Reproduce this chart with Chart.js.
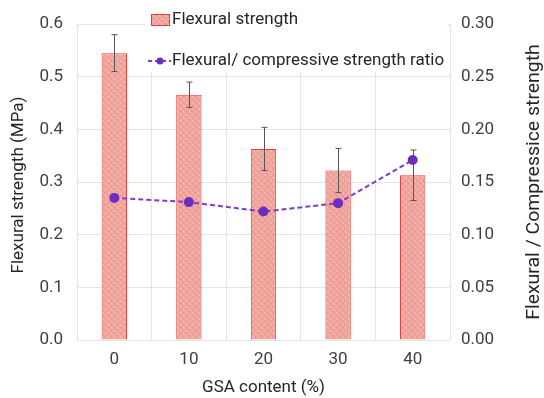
<!DOCTYPE html>
<html><head><meta charset="utf-8">
<script src="https://cdn.jsdelivr.net/npm/chart.js@4/dist/chart.umd.min.js"></script>
<style>html,body{margin:0;padding:0;background:#fff}</style>
</head><body>
<canvas id="c" width="544" height="398"></canvas>
<script>
const categories = ['0', '10', '20', '30', '40'];
const flexuralStrength = [0.545, 0.466, 0.363, 0.322, 0.313];
const flexuralError = [0.035, 0.024, 0.041, 0.042, 0.048];
const strengthRatio = [0.135, 0.131, 0.122, 0.130, 0.171];
const seriesLabels = ['Flexural strength', 'Flexural/ compressive strength ratio'];
const axisTitles = { x: 'GSA content (%)', y: 'Flexural strength (MPa)', y1: 'Flexural / Compressice strength' };

const FONT = 'Roboto, "Noto Sans", sans-serif';

function makePattern() {
  const p = document.createElement('canvas');
  p.width = 6; p.height = 6;
  const g = p.getContext('2d');
  g.fillStyle = '#f0a39b'; g.fillRect(0, 0, 6, 6);
  g.fillStyle = '#f7c3bd';
  g.fillRect(0, 0, 1, 1); g.fillRect(3, 3, 1, 1);
  g.fillRect(1, 1, 1, 1); g.fillRect(4, 4, 1, 1);
  g.fillStyle = '#e8908a';
  g.fillRect(3, 0, 1, 1); g.fillRect(0, 3, 1, 1);
  return g.createPattern(p, 'repeat');
}
const barPattern = makePattern();

const errorBarPlugin = {
  id: 'errorBars',
  afterDatasetsDraw(chart) {
    const ctx = chart.ctx;
    const meta = chart.getDatasetMeta(0);
    const ys = chart.scales.y;
    ctx.save();
    ctx.strokeStyle = '#555';
    ctx.lineWidth = 1;
    meta.data.forEach((bar, i) => {
      const v = flexuralStrength[i], e = flexuralError[i];
      const yt = ys.getPixelForValue(v + e), yb = ys.getPixelForValue(v - e);
      const x = Math.round(bar.x) + 0.5;
      ctx.beginPath();
      ctx.moveTo(x, yt); ctx.lineTo(x, yb);
      ctx.moveTo(x - 3, yt); ctx.lineTo(x + 3, yt);
      ctx.moveTo(x - 3, yb); ctx.lineTo(x + 3, yb);
      ctx.stroke();
    });
    ctx.restore();
  }
};

const legendPlugin = {
  id: 'customLegend',
  afterDatasetsDraw(chart) {
    const ctx = chart.ctx;
    const ds = chart.data.datasets;
    ctx.save();
    ctx.fillStyle = '#fff';
    ctx.fillRect(145, 6, 303, 66);
    ctx.fillStyle = barPattern;
    ctx.fillRect(151, 14, 19, 12);
    ctx.strokeStyle = '#e04040'; ctx.lineWidth = 1;
    ctx.strokeRect(151.5, 14.5, 18, 11);
    ctx.font = '17px ' + FONT;
    ctx.fillStyle = '#262626';
    ctx.textBaseline = 'middle';
    ctx.fillText(ds[0].label, 172, 20);
    ctx.strokeStyle = '#7a3fc4'; ctx.lineWidth = 2; ctx.setLineDash([4, 3]);
    ctx.beginPath(); ctx.moveTo(148, 61); ctx.lineTo(171, 61); ctx.stroke();
    ctx.setLineDash([]);
    ctx.fillStyle = '#6a2fc0';
    ctx.beginPath(); ctx.arc(160, 61, 3.5, 0, Math.PI * 2); ctx.fill();
    ctx.fillStyle = '#262626';
    ctx.fillText(ds[1].label, 172, 61);
    ctx.restore();
  }
};

function drawVerticalTitle(ctx, text, cx, cy, size, stretch) {
  ctx.save();
  ctx.translate(cx, cy);
  ctx.rotate(-Math.PI / 2);
  ctx.scale(stretch, 1);
  ctx.font = size + 'px ' + FONT;
  ctx.fillStyle = '#262626';
  ctx.textAlign = 'center';
  ctx.textBaseline = 'middle';
  ctx.fillText(text, 0, 0);
  ctx.restore();
}

const verticalTitlesPlugin = {
  id: 'verticalTitles',
  afterDraw(chart) {
    drawVerticalTitle(chart.ctx, axisTitles.y, 19, 185, 17, 1);
    drawVerticalTitle(chart.ctx, axisTitles.y1, 534, 182, 18, 1.08);
  }
};

new Chart(document.getElementById('c'), {
  data: {
    labels: categories,
    datasets: [
      {
        type: 'bar', label: seriesLabels[0], data: flexuralStrength, yAxisID: 'y',
        backgroundColor: barPattern, borderColor: '#e04040', borderWidth: 1,
        categoryPercentage: 1, barPercentage: 0.34, order: 2
      },
      {
        type: 'line', label: seriesLabels[1], data: strengthRatio, yAxisID: 'y1',
        borderColor: '#7a3fc4', borderWidth: 2, borderDash: [5, 3],
        pointBackgroundColor: '#6a2fc0', pointBorderColor: '#6a2fc0', pointRadius: 4,
        fill: false, tension: 0, order: 1
      }
    ]
  },
  options: {
    responsive: false, animation: false, devicePixelRatio: 1,
    layout: { padding: { top: 19, left: 0, right: 0, bottom: 0 } },
    plugins: { legend: { display: false }, tooltip: { enabled: false } },
    scales: {
      x: {
        grid: { color: '#e4e4e4', drawTicks: false, offset: true },
        border: { display: false },
        ticks: { padding: 10, color: '#404040', font: { family: FONT, size: 17 } },
        title: { display: true, text: axisTitles.x, color: '#262626', font: { family: FONT, size: 17 }, padding: { top: 5, bottom: 0 } },
        afterFit(s) { s.height = 58; }
      },
      y: {
        position: 'left', min: 0, max: 0.6,
        grid: { color: '#e4e4e4', drawTicks: false },
        border: { display: false },
        ticks: { stepSize: 0.1, padding: 14, color: '#404040', font: { family: FONT, size: 17 },
                 callback: v => v.toFixed(1) },
        afterFit(s) { s.width = 77; }
      },
      y1: {
        position: 'right', min: 0, max: 0.3,
        grid: { drawOnChartArea: false, drawTicks: false },
        border: { display: false },
        ticks: { stepSize: 0.05, padding: 11, color: '#404040', font: { family: FONT, size: 17 },
                 callback: v => v.toFixed(2) },
        afterFit(s) { s.width = 94; }
      }
    }
  },
  plugins: [errorBarPlugin, legendPlugin, verticalTitlesPlugin]
});
</script>
</body></html>
